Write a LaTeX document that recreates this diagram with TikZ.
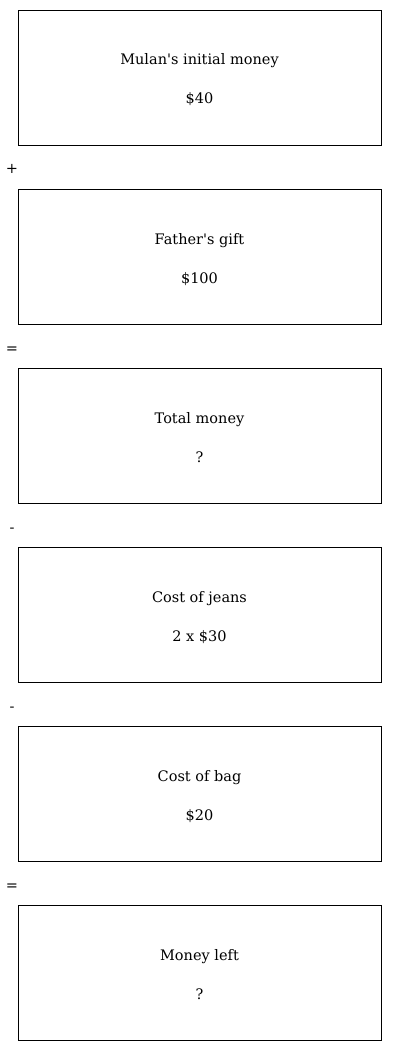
\documentclass[tikz,border=0pt]{standalone}
\usepackage{fontspec}
\setmainfont{DejaVu Serif}
\begin{document}
\begin{tikzpicture}[x=1pt,y=-1pt,
  box/.style={draw,line width=0.9pt,minimum width=363pt,minimum height=135pt,anchor=north west,inner sep=0pt},
  lbl/.style={font=\fontsize{14.5}{17}\selectfont,anchor=base},
  op/.style={font=\fontsize{14.5}{17}\selectfont,anchor=base}]
\useasboundingbox (0,0) rectangle (400,1051);
\foreach \i/\t/\v/\o in {0/{Mulan\textquotesingle s initial money}/{\$40}/+,1/{Father\textquotesingle s gift}/{\$100}/=,2/{Total money}/{?}/-,3/{Cost of jeans}/{2 x \$30}/-,4/{Cost of bag}/{\$20}/=,5/{Money left}/{?}/{}}{
  \node[box] (b\i) at (18,{10+179*\i}) {};
  \node[lbl] (t\i) at (199.5,{65+179*\i}) {\t};
  \node[lbl] (v\i) at (199.5,{104+179*\i}) {\v};
  \node[op] (o\i) at (12,{174+179*\i}) {\o};
}
\end{tikzpicture}
\end{document}
